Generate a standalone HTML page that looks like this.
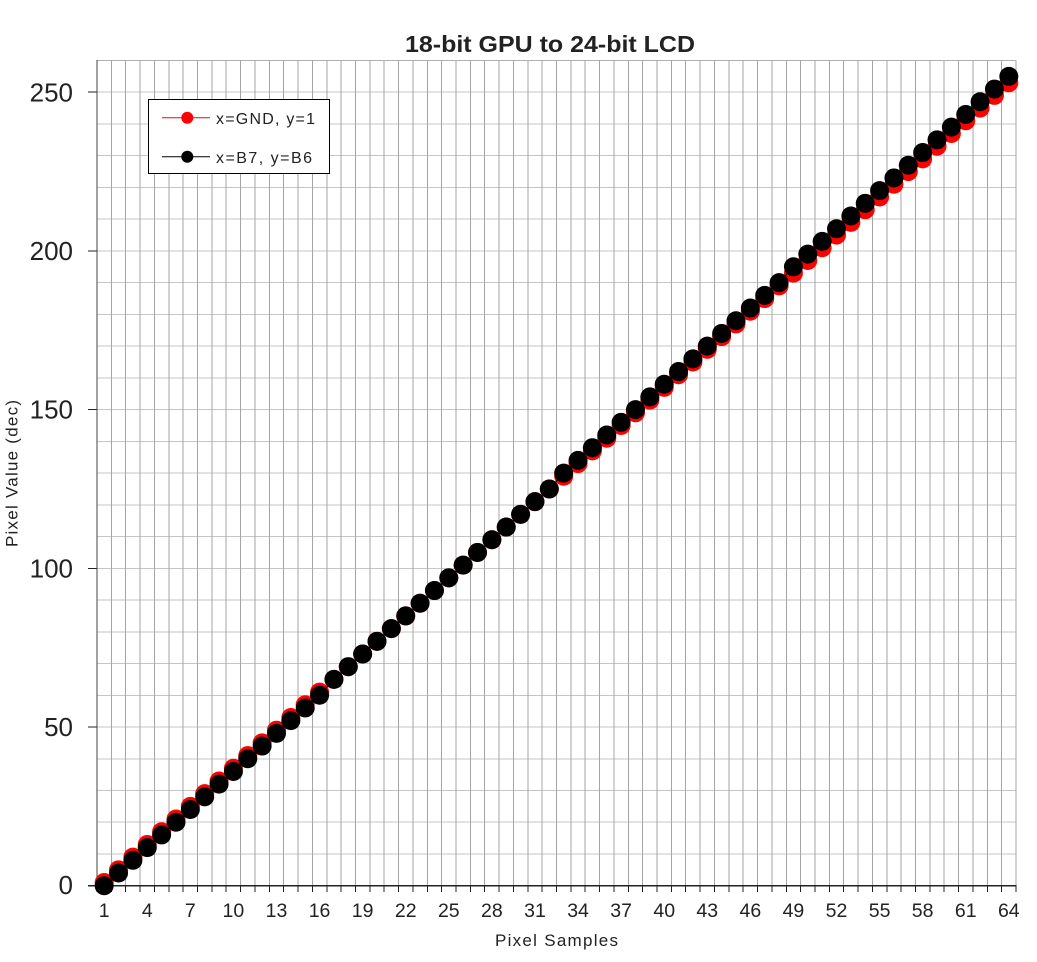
<!DOCTYPE html>
<html><head><meta charset="utf-8"><style>
html,body{margin:0;padding:0;background:#fff;}
svg{display:block;}
text{font-family:"Liberation Sans",Arial,sans-serif;fill:#222;}
</style></head><body>
<svg width="1037" height="962" viewBox="0 0 1037 962" xmlns="http://www.w3.org/2000/svg">
<rect width="1037" height="962" fill="#fff"/>
<!-- horizontal grid -->
<g stroke="#c6c6c6" stroke-width="1" shape-rendering="crispEdges">
<path d="M97 853.96H1016M97 822.22H1016M97 790.48H1016M97 758.75H1016M97 727.01H1016M97 695.27H1016M97 663.53H1016M97 631.79H1016M97 600.05H1016M97 568.32H1016M97 536.58H1016M97 504.84H1016M97 473.10H1016M97 441.36H1016M97 409.62H1016M97 377.88H1016M97 346.15H1016M97 314.41H1016M97 282.67H1016M97 250.93H1016M97 219.19H1016M97 187.45H1016M97 155.72H1016M97 123.98H1016M97 92.24H1016"/>
</g>
<!-- vertical grid -->
<g stroke="#a4a4a4" stroke-width="1" shape-rendering="crispEdges">
<path d="M111.36 60.5V885.7M125.72 60.5V885.7M140.08 60.5V885.7M154.44 60.5V885.7M168.80 60.5V885.7M183.16 60.5V885.7M197.52 60.5V885.7M211.88 60.5V885.7M226.23 60.5V885.7M240.59 60.5V885.7M254.95 60.5V885.7M269.31 60.5V885.7M283.67 60.5V885.7M298.03 60.5V885.7M312.39 60.5V885.7M326.75 60.5V885.7M341.11 60.5V885.7M355.47 60.5V885.7M369.83 60.5V885.7M384.19 60.5V885.7M398.55 60.5V885.7M412.91 60.5V885.7M427.27 60.5V885.7M441.63 60.5V885.7M455.98 60.5V885.7M470.34 60.5V885.7M484.70 60.5V885.7M499.06 60.5V885.7M513.42 60.5V885.7M527.78 60.5V885.7M542.14 60.5V885.7M556.50 60.5V885.7M570.86 60.5V885.7M585.22 60.5V885.7M599.58 60.5V885.7M613.94 60.5V885.7M628.30 60.5V885.7M642.66 60.5V885.7M657.02 60.5V885.7M671.38 60.5V885.7M685.73 60.5V885.7M700.09 60.5V885.7M714.45 60.5V885.7M728.81 60.5V885.7M743.17 60.5V885.7M757.53 60.5V885.7M771.89 60.5V885.7M786.25 60.5V885.7M800.61 60.5V885.7M814.97 60.5V885.7M829.33 60.5V885.7M843.69 60.5V885.7M858.05 60.5V885.7M872.41 60.5V885.7M886.77 60.5V885.7M901.13 60.5V885.7M915.48 60.5V885.7M929.84 60.5V885.7M944.20 60.5V885.7M958.56 60.5V885.7M972.92 60.5V885.7M987.28 60.5V885.7M1001.64 60.5V885.7M1015.8 60.5V885.7"/>
</g>
<!-- top border -->
<path d="M97 60.5H1016" stroke="#b0b0b0" stroke-width="1.2" shape-rendering="crispEdges"/>
<!-- x ticks -->
<g stroke="#222" stroke-width="1" shape-rendering="crispEdges">
<path d="M97 885.7V892M111.36 885.7V892M125.72 885.7V892M140.08 885.7V892M154.44 885.7V892M168.80 885.7V892M183.16 885.7V892M197.52 885.7V892M211.88 885.7V892M226.23 885.7V892M240.59 885.7V892M254.95 885.7V892M269.31 885.7V892M283.67 885.7V892M298.03 885.7V892M312.39 885.7V892M326.75 885.7V892M341.11 885.7V892M355.47 885.7V892M369.83 885.7V892M384.19 885.7V892M398.55 885.7V892M412.91 885.7V892M427.27 885.7V892M441.63 885.7V892M455.98 885.7V892M470.34 885.7V892M484.70 885.7V892M499.06 885.7V892M513.42 885.7V892M527.78 885.7V892M542.14 885.7V892M556.50 885.7V892M570.86 885.7V892M585.22 885.7V892M599.58 885.7V892M613.94 885.7V892M628.30 885.7V892M642.66 885.7V892M657.02 885.7V892M671.38 885.7V892M685.73 885.7V892M700.09 885.7V892M714.45 885.7V892M728.81 885.7V892M743.17 885.7V892M757.53 885.7V892M771.89 885.7V892M786.25 885.7V892M800.61 885.7V892M814.97 885.7V892M829.33 885.7V892M843.69 885.7V892M858.05 885.7V892M872.41 885.7V892M886.77 885.7V892M901.13 885.7V892M915.48 885.7V892M929.84 885.7V892M944.20 885.7V892M958.56 885.7V892M972.92 885.7V892M987.28 885.7V892M1001.64 885.7V892M1015.8 885.7V892"/>
<!-- y ticks -->
<path d="M88 885.7H97M88 727.01H97M88 568.32H97M88 409.62H97M88 250.93H97M88 92.24H97"/>
</g>
<!-- axes -->
<path d="M97 60V886" stroke="#444" stroke-width="1.3" shape-rendering="crispEdges"/>
<path d="M88 885.7H1016.5" stroke="#222" stroke-width="1.3" shape-rendering="crispEdges"/>

<!-- y labels -->
<g font-size="26" text-anchor="end">
<text x="73" y="894.2">0</text>
<text x="73" y="736">50</text>
<text x="73" y="577.3">100</text>
<text x="73" y="418.6">150</text>
<text x="73" y="259.9">200</text>
<text x="73" y="101.4">250</text>
</g>
<!-- x labels -->
<g font-size="19.5" text-anchor="middle">
<text x="104.18" y="917">1</text>
<text x="147.26" y="917">4</text>
<text x="190.34" y="917">7</text>
<text x="233.41" y="917">10</text>
<text x="276.49" y="917">13</text>
<text x="319.57" y="917">16</text>
<text x="362.65" y="917">19</text>
<text x="405.73" y="917">22</text>
<text x="448.80" y="917">25</text>
<text x="491.88" y="917">28</text>
<text x="534.96" y="917">31</text>
<text x="578.04" y="917">34</text>
<text x="621.12" y="917">37</text>
<text x="664.20" y="917">40</text>
<text x="707.27" y="917">43</text>
<text x="750.35" y="917">46</text>
<text x="793.43" y="917">49</text>
<text x="836.51" y="917">52</text>
<text x="879.59" y="917">55</text>
<text x="922.66" y="917">58</text>
<text x="965.74" y="917">61</text>
<text x="1008.82" y="917">64</text>
</g>

<!-- titles -->
<text x="405" y="52" font-size="23" font-weight="bold" fill="#111" textLength="290" lengthAdjust="spacingAndGlyphs">18-bit GPU to 24-bit LCD</text>
<text x="495" y="946" font-size="17" textLength="123" lengthAdjust="spacing">Pixel  Samples</text>
<text transform="translate(17.5,547) rotate(-90)" font-size="17" textLength="147" lengthAdjust="spacing">Pixel Value  (dec)</text>

<!-- red series -->
<polyline fill="none" stroke="#f00" stroke-width="1" points="104.18,882.53 118.54,869.83 132.90,857.14 147.26,844.44 161.62,831.75 175.98,819.05 190.34,806.36 204.70,793.66 219.05,780.97 233.41,768.27 247.77,755.58 262.13,742.88 276.49,730.19 290.85,717.49 305.21,704.79 319.57,692.10 333.93,679.40 348.29,666.71 362.65,654.01 377.01,641.32 391.37,628.62 405.73,615.93 420.09,603.23 434.45,590.54 448.80,577.84 463.16,565.15 477.52,552.45 491.88,539.75 506.24,527.06 520.60,514.36 534.96,501.67 549.32,488.97 563.68,476.28 578.04,463.58 592.40,450.89 606.76,438.19 621.12,425.50 635.48,412.80 649.84,400.11 664.20,387.41 678.55,374.71 692.91,362.02 707.27,349.32 721.63,336.63 735.99,323.93 750.35,311.24 764.71,298.54 779.07,285.85 793.43,273.15 807.79,260.46 822.15,247.76 836.51,235.07 850.87,222.37 865.23,209.67 879.59,196.98 893.95,184.28 908.30,171.59 922.66,158.89 937.02,146.20 951.38,133.50 965.74,120.81 980.10,108.11 994.46,95.42 1008.82,82.72"/>
<g fill="#f00">
<circle cx="104.18" cy="882.53" r="9.5"/><circle cx="118.54" cy="869.83" r="9.5"/><circle cx="132.90" cy="857.14" r="9.5"/><circle cx="147.26" cy="844.44" r="9.5"/><circle cx="161.62" cy="831.75" r="9.5"/><circle cx="175.98" cy="819.05" r="9.5"/><circle cx="190.34" cy="806.36" r="9.5"/><circle cx="204.70" cy="793.66" r="9.5"/><circle cx="219.05" cy="780.97" r="9.5"/><circle cx="233.41" cy="768.27" r="9.5"/><circle cx="247.77" cy="755.58" r="9.5"/><circle cx="262.13" cy="742.88" r="9.5"/><circle cx="276.49" cy="730.19" r="9.5"/><circle cx="290.85" cy="717.49" r="9.5"/><circle cx="305.21" cy="704.79" r="9.5"/><circle cx="319.57" cy="692.10" r="9.5"/><circle cx="333.93" cy="679.40" r="9.5"/><circle cx="348.29" cy="666.71" r="9.5"/><circle cx="362.65" cy="654.01" r="9.5"/><circle cx="377.01" cy="641.32" r="9.5"/><circle cx="391.37" cy="628.62" r="9.5"/><circle cx="405.73" cy="615.93" r="9.5"/><circle cx="420.09" cy="603.23" r="9.5"/><circle cx="434.45" cy="590.54" r="9.5"/><circle cx="448.80" cy="577.84" r="9.5"/><circle cx="463.16" cy="565.15" r="9.5"/><circle cx="477.52" cy="552.45" r="9.5"/><circle cx="491.88" cy="539.75" r="9.5"/><circle cx="506.24" cy="527.06" r="9.5"/><circle cx="520.60" cy="514.36" r="9.5"/><circle cx="534.96" cy="501.67" r="9.5"/><circle cx="549.32" cy="488.97" r="9.5"/><circle cx="563.68" cy="476.28" r="9.5"/><circle cx="578.04" cy="463.58" r="9.5"/><circle cx="592.40" cy="450.89" r="9.5"/><circle cx="606.76" cy="438.19" r="9.5"/><circle cx="621.12" cy="425.50" r="9.5"/><circle cx="635.48" cy="412.80" r="9.5"/><circle cx="649.84" cy="400.11" r="9.5"/><circle cx="664.20" cy="387.41" r="9.5"/><circle cx="678.55" cy="374.71" r="9.5"/><circle cx="692.91" cy="362.02" r="9.5"/><circle cx="707.27" cy="349.32" r="9.5"/><circle cx="721.63" cy="336.63" r="9.5"/><circle cx="735.99" cy="323.93" r="9.5"/><circle cx="750.35" cy="311.24" r="9.5"/><circle cx="764.71" cy="298.54" r="9.5"/><circle cx="779.07" cy="285.85" r="9.5"/><circle cx="793.43" cy="273.15" r="9.5"/><circle cx="807.79" cy="260.46" r="9.5"/><circle cx="822.15" cy="247.76" r="9.5"/><circle cx="836.51" cy="235.07" r="9.5"/><circle cx="850.87" cy="222.37" r="9.5"/><circle cx="865.23" cy="209.67" r="9.5"/><circle cx="879.59" cy="196.98" r="9.5"/><circle cx="893.95" cy="184.28" r="9.5"/><circle cx="908.30" cy="171.59" r="9.5"/><circle cx="922.66" cy="158.89" r="9.5"/><circle cx="937.02" cy="146.20" r="9.5"/><circle cx="951.38" cy="133.50" r="9.5"/><circle cx="965.74" cy="120.81" r="9.5"/><circle cx="980.10" cy="108.11" r="9.5"/><circle cx="994.46" cy="95.42" r="9.5"/><circle cx="1008.82" cy="82.72" r="9.5"/>
</g>

<!-- black series -->
<polyline fill="none" stroke="#000" stroke-width="1" points="104.18,885.70 118.54,873.00 132.90,860.31 147.26,847.61 161.62,834.92 175.98,822.22 190.34,809.53 204.70,796.83 219.05,784.14 233.41,771.44 247.77,758.75 262.13,746.05 276.49,733.36 290.85,720.66 305.21,707.96 319.57,695.27 333.93,679.40 348.29,666.71 362.65,654.01 377.01,641.32 391.37,628.62 405.73,615.93 420.09,603.23 434.45,590.54 448.80,577.84 463.16,565.15 477.52,552.45 491.88,539.75 506.24,527.06 520.60,514.36 534.96,501.67 549.32,488.97 563.68,473.10 578.04,460.40 592.40,447.71 606.76,435.01 621.12,422.32 635.48,409.62 649.84,396.93 664.20,384.23 678.55,371.54 692.91,358.84 707.27,346.15 721.63,333.45 735.99,320.76 750.35,308.06 764.71,295.36 779.07,282.67 793.43,266.80 807.79,254.11 822.15,241.41 836.51,228.72 850.87,216.02 865.23,203.33 879.59,190.63 893.95,177.94 908.30,165.24 922.66,152.55 937.02,139.85 951.38,127.16 965.74,114.46 980.10,101.77 994.46,89.07 1008.82,76.37"/>
<g fill="#000">
<circle cx="104.18" cy="885.70" r="9.5"/><circle cx="118.54" cy="873.00" r="9.5"/><circle cx="132.90" cy="860.31" r="9.5"/><circle cx="147.26" cy="847.61" r="9.5"/><circle cx="161.62" cy="834.92" r="9.5"/><circle cx="175.98" cy="822.22" r="9.5"/><circle cx="190.34" cy="809.53" r="9.5"/><circle cx="204.70" cy="796.83" r="9.5"/><circle cx="219.05" cy="784.14" r="9.5"/><circle cx="233.41" cy="771.44" r="9.5"/><circle cx="247.77" cy="758.75" r="9.5"/><circle cx="262.13" cy="746.05" r="9.5"/><circle cx="276.49" cy="733.36" r="9.5"/><circle cx="290.85" cy="720.66" r="9.5"/><circle cx="305.21" cy="707.96" r="9.5"/><circle cx="319.57" cy="695.27" r="9.5"/><circle cx="333.93" cy="679.40" r="9.5"/><circle cx="348.29" cy="666.71" r="9.5"/><circle cx="362.65" cy="654.01" r="9.5"/><circle cx="377.01" cy="641.32" r="9.5"/><circle cx="391.37" cy="628.62" r="9.5"/><circle cx="405.73" cy="615.93" r="9.5"/><circle cx="420.09" cy="603.23" r="9.5"/><circle cx="434.45" cy="590.54" r="9.5"/><circle cx="448.80" cy="577.84" r="9.5"/><circle cx="463.16" cy="565.15" r="9.5"/><circle cx="477.52" cy="552.45" r="9.5"/><circle cx="491.88" cy="539.75" r="9.5"/><circle cx="506.24" cy="527.06" r="9.5"/><circle cx="520.60" cy="514.36" r="9.5"/><circle cx="534.96" cy="501.67" r="9.5"/><circle cx="549.32" cy="488.97" r="9.5"/><circle cx="563.68" cy="473.10" r="9.5"/><circle cx="578.04" cy="460.40" r="9.5"/><circle cx="592.40" cy="447.71" r="9.5"/><circle cx="606.76" cy="435.01" r="9.5"/><circle cx="621.12" cy="422.32" r="9.5"/><circle cx="635.48" cy="409.62" r="9.5"/><circle cx="649.84" cy="396.93" r="9.5"/><circle cx="664.20" cy="384.23" r="9.5"/><circle cx="678.55" cy="371.54" r="9.5"/><circle cx="692.91" cy="358.84" r="9.5"/><circle cx="707.27" cy="346.15" r="9.5"/><circle cx="721.63" cy="333.45" r="9.5"/><circle cx="735.99" cy="320.76" r="9.5"/><circle cx="750.35" cy="308.06" r="9.5"/><circle cx="764.71" cy="295.36" r="9.5"/><circle cx="779.07" cy="282.67" r="9.5"/><circle cx="793.43" cy="266.80" r="9.5"/><circle cx="807.79" cy="254.11" r="9.5"/><circle cx="822.15" cy="241.41" r="9.5"/><circle cx="836.51" cy="228.72" r="9.5"/><circle cx="850.87" cy="216.02" r="9.5"/><circle cx="865.23" cy="203.33" r="9.5"/><circle cx="879.59" cy="190.63" r="9.5"/><circle cx="893.95" cy="177.94" r="9.5"/><circle cx="908.30" cy="165.24" r="9.5"/><circle cx="922.66" cy="152.55" r="9.5"/><circle cx="937.02" cy="139.85" r="9.5"/><circle cx="951.38" cy="127.16" r="9.5"/><circle cx="965.74" cy="114.46" r="9.5"/><circle cx="980.10" cy="101.77" r="9.5"/><circle cx="994.46" cy="89.07" r="9.5"/><circle cx="1008.82" cy="76.37" r="9.5"/>
</g>

<!-- legend -->
<rect x="148.5" y="99.5" width="181" height="74" fill="#fff" stroke="#000" stroke-width="1"/>
<path d="M162 117.7H210" stroke="#f00" stroke-width="1"/>
<circle cx="187.3" cy="117.7" r="6" fill="#f00"/>
<text x="216" y="124" font-size="16" textLength="99" lengthAdjust="spacing">x=GND, y=1</text>
<path d="M162 156.7H210" stroke="#000" stroke-width="1"/>
<circle cx="187.3" cy="156.7" r="6" fill="#000"/>
<text x="216" y="163" font-size="16" textLength="96" lengthAdjust="spacing">x=B7, y=B6</text>
</svg>
</body></html>
